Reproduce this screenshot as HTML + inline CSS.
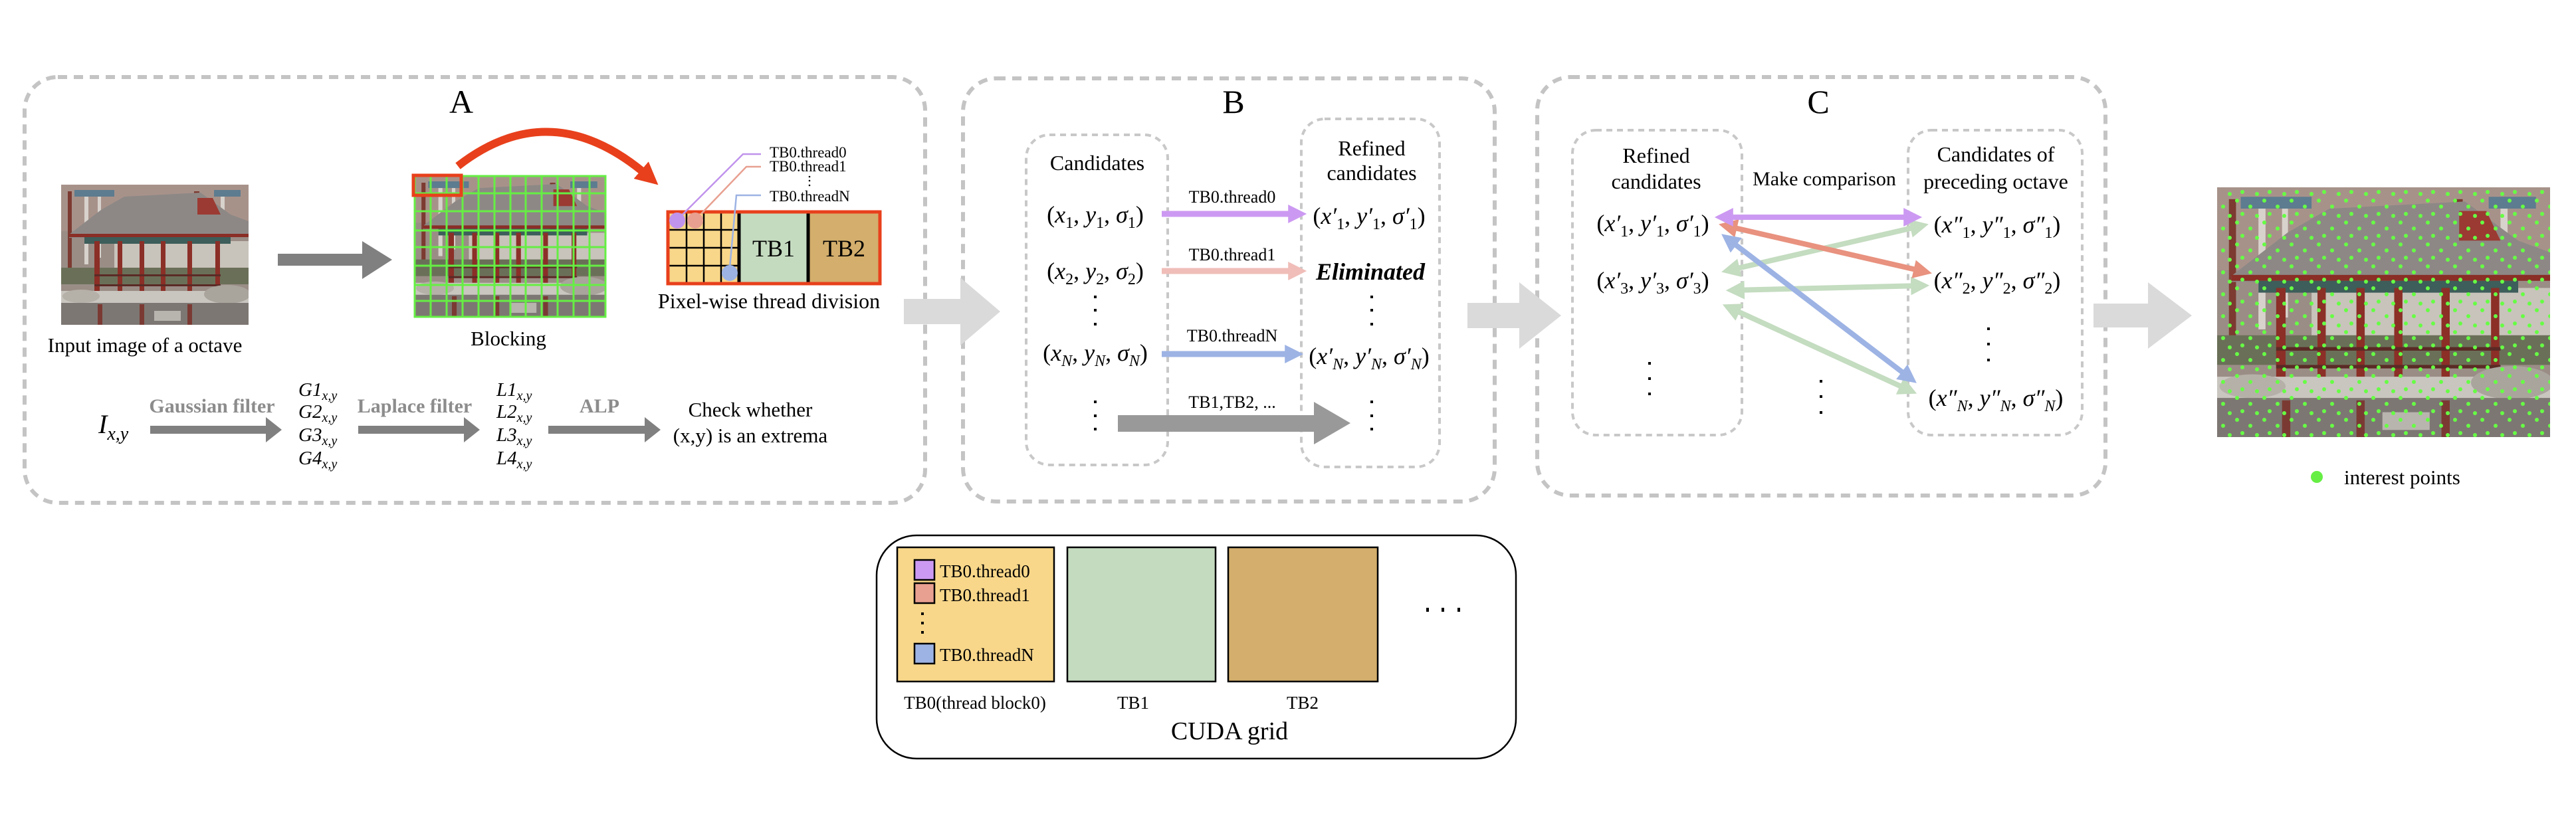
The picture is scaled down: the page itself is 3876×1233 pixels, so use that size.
<!DOCTYPE html>
<html><head><meta charset="utf-8"><style>
html,body{margin:0;padding:0;background:#fff;}
svg{display:block;}
text{font-family:"Liberation Serif",serif;fill:#000;}
text.g{fill:#8c8c8c;}
.m{font-size:36px;}
.i{font-style:italic;}
.s{font-size:24px;}
</style></head><body>
<svg width="3876" height="1233" viewBox="0 0 3876 1233" xmlns="http://www.w3.org/2000/svg">
<defs>
<symbol id="pav" viewBox="0 0 282 211" preserveAspectRatio="none">
<rect x="0" y="0" width="282" height="211" fill="#9a8d86"/>
<rect x="0" y="0" width="282" height="70" fill="#a7928a"/>
<rect x="10" y="10" width="6" height="120" fill="#7c3a30"/>
<rect x="35" y="10" width="6" height="110" fill="#d8d2cc"/>
<rect x="55" y="10" width="5" height="100" fill="#d8d2cc"/>
<rect x="200" y="10" width="8" height="110" fill="#7c3a30"/>
<rect x="240" y="10" width="6" height="110" fill="#d8d2cc"/>
<rect x="20" y="8" width="60" height="10" fill="#5d7c8f"/>
<rect x="230" y="8" width="40" height="10" fill="#5d7c8f"/>
<rect x="80" y="85" width="202" height="60" fill="#c8c3bb"/>
<rect x="0" y="125" width="282" height="25" fill="#6a7058"/>
<polygon points="12,75 60,38 95,18 210,12 255,45 282,55 282,78 12,80" fill="#8d8886"/>
<polygon points="205,20 228,20 240,45 205,45" fill="#9b3a32"/>
<rect x="12" y="74" width="270" height="5" fill="#8a2e26"/>
<rect x="35" y="79" width="220" height="10" fill="#3d5e5a"/>
<rect x="50" y="85" width="8" height="80" fill="#8b2f27"/>
<rect x="85" y="85" width="7" height="80" fill="#8b2f27"/>
<rect x="118" y="85" width="7" height="80" fill="#8b2f27"/>
<rect x="150" y="85" width="7" height="80" fill="#8b2f27"/>
<rect x="190" y="85" width="7" height="80" fill="#8b2f27"/>
<rect x="232" y="85" width="7" height="80" fill="#8b2f27"/>
<rect x="50" y="135" width="190" height="3" fill="#5a2a25"/>
<rect x="50" y="150" width="190" height="3" fill="#5a2a25"/>
<rect x="0" y="160" width="282" height="18" fill="#c9c5bf"/>
<ellipse cx="30" cy="168" rx="28" ry="10" fill="#b5b0a8"/>
<ellipse cx="250" cy="165" rx="35" ry="14" fill="#a9a49c"/>
<rect x="0" y="178" width="282" height="33" fill="#7d7773"/>
<rect x="55" y="180" width="7" height="31" fill="#7a3a33"/>
<rect x="118" y="180" width="7" height="31" fill="#7a3a33"/>
<rect x="190" y="180" width="7" height="31" fill="#7a3a33"/>
<rect x="140" y="190" width="40" height="15" fill="#b8b4ae"/>
</symbol>
<pattern id="dots1" width="41" height="33" patternUnits="userSpaceOnUse">
<circle cx="4" cy="5" r="3" fill="#66ff44"/><circle cx="24" cy="14" r="3" fill="#66ff44"/><circle cx="12" cy="25" r="3" fill="#66ff44"/><circle cx="34" cy="28" r="3" fill="#66ff44"/>
</pattern>
<marker id="mP" viewBox="0 0 10 10" refX="6" refY="5" markerWidth="30" markerHeight="28" markerUnits="userSpaceOnUse" orient="auto-start-reverse"><path d="M0,0L10,5L0,10z" fill="#cc99f2"/></marker>
<marker id="mK" viewBox="0 0 10 10" refX="6" refY="5" markerWidth="30" markerHeight="28" markerUnits="userSpaceOnUse" orient="auto-start-reverse"><path d="M0,0L10,5L0,10z" fill="#f0bdb8"/></marker>
<marker id="mB" viewBox="0 0 10 10" refX="6" refY="5" markerWidth="30" markerHeight="28" markerUnits="userSpaceOnUse" orient="auto-start-reverse"><path d="M0,0L10,5L0,10z" fill="#9db3e4"/></marker>
<marker id="mS" viewBox="0 0 10 10" refX="6" refY="5" markerWidth="30" markerHeight="28" markerUnits="userSpaceOnUse" orient="auto-start-reverse"><path d="M0,0L10,5L0,10z" fill="#e8927f"/></marker>
<marker id="mG" viewBox="0 0 10 10" refX="6" refY="5" markerWidth="30" markerHeight="28" markerUnits="userSpaceOnUse" orient="auto-start-reverse"><path d="M0,0L10,5L0,10z" fill="#c4dcc0"/></marker>
<marker id="mR" viewBox="0 0 10 10" refX="4" refY="5" markerWidth="34" markerHeight="34" markerUnits="userSpaceOnUse" orient="auto"><path d="M0,0L10,5L0,10z" fill="#e8401c"/></marker>
</defs>

<g fill="none" stroke="#c4c4c4" stroke-width="6" stroke-dasharray="14 10">
<rect x="37" y="116" width="1355" height="641" rx="50"/>
<rect x="1449" y="118" width="800" height="637" rx="50"/>
<rect x="2313" y="116" width="855" height="630" rx="50"/>
</g>
<g fill="none" stroke="#c8c8c8" stroke-width="4" stroke-dasharray="9 7">
<rect x="1544" y="203" width="213" height="497" rx="35"/>
<rect x="1958" y="179" width="208" height="524" rx="35"/>
<rect x="2366" y="196" width="255" height="459" rx="35"/>
<rect x="2871" y="196" width="262" height="459" rx="35"/>
</g>

<g fill="#dadadb">
<polygon points="1360,450 1445,450 1445,418 1505,469 1445,520 1445,488 1360,488"/>
<polygon points="2208,456 2286,456 2286,425 2349,475 2286,525 2286,494 2208,494"/>
<polygon points="3150,457 3232,457 3232,425 3298,475 3232,525 3232,493 3150,493"/>
</g>

<text x="694" y="170" font-size="50" text-anchor="middle">A</text>
<use href="#pav" x="92" y="278" width="282" height="211"/>
<text x="218" y="530" font-size="31" text-anchor="middle">Input image of a octave</text>
<polygon points="418,382 545,382 545,363 590,391 545,420 545,400 418,400" fill="#808080"/>
<use href="#pav" x="624" y="265" width="287" height="212"/>
<g stroke="#66ee44" stroke-width="3">
<rect x="624" y="265" width="287" height="212" fill="none"/>
<line x1="648" y1="265" x2="648" y2="477"/><line x1="672" y1="265" x2="672" y2="477"/><line x1="696" y1="265" x2="696" y2="477"/><line x1="720" y1="265" x2="720" y2="477"/><line x1="744" y1="265" x2="744" y2="477"/><line x1="768" y1="265" x2="768" y2="477"/><line x1="791" y1="265" x2="791" y2="477"/><line x1="815" y1="265" x2="815" y2="477"/><line x1="839" y1="265" x2="839" y2="477"/><line x1="863" y1="265" x2="863" y2="477"/><line x1="887" y1="265" x2="887" y2="477"/>
<line x1="624" y1="291" x2="911" y2="291"/><line x1="624" y1="318" x2="911" y2="318"/><line x1="624" y1="347" x2="911" y2="347"/><line x1="624" y1="372" x2="911" y2="372"/><line x1="624" y1="400" x2="911" y2="400"/><line x1="624" y1="429" x2="911" y2="429"/><line x1="624" y1="453" x2="911" y2="453"/>
</g>
<rect x="622" y="264" width="72" height="30" fill="none" stroke="#e8401c" stroke-width="5"/>
<text x="765" y="520" font-size="31" text-anchor="middle">Blocking</text>
<path d="M689,250 Q830,140 975,265" fill="none" stroke="#e8401c" stroke-width="12" marker-end="url(#mR)"/>

<rect x="1005" y="319" width="106" height="108" fill="#f8d78a"/>
<rect x="1112" y="319" width="104" height="108" fill="#c5dbc0"/>
<rect x="1216" y="319" width="108" height="108" fill="#d3ae6c"/>
<g stroke="#000" stroke-width="2.5">
<line x1="1033" y1="319" x2="1033" y2="427"/><line x1="1059" y1="319" x2="1059" y2="427"/><line x1="1085" y1="319" x2="1085" y2="427"/>
<line x1="1005" y1="346" x2="1111" y2="346"/><line x1="1005" y1="373" x2="1111" y2="373"/><line x1="1005" y1="400" x2="1111" y2="400"/>
</g>
<line x1="1112" y1="319" x2="1112" y2="427" stroke="#000" stroke-width="5"/>
<line x1="1216" y1="319" x2="1216" y2="427" stroke="#000" stroke-width="5"/>
<rect x="1005" y="319" width="319" height="108" fill="none" stroke="#e8401c" stroke-width="5"/>
<text x="1164" y="386" font-size="36" text-anchor="middle">TB1</text>
<text x="1270" y="386" font-size="36" text-anchor="middle">TB2</text>
<polyline points="1027,323 1118,232 1145,232" fill="none" stroke="#c094ec" stroke-width="2.5"/>
<polyline points="1055,322 1123,251 1145,251" fill="none" stroke="#e8a090" stroke-width="2.5"/>
<polyline points="1098,403 1108,294 1145,294" fill="none" stroke="#9db3e4" stroke-width="2.5"/>
<circle cx="1019" cy="332" r="12" fill="#c094ec"/>
<circle cx="1046" cy="332" r="12" fill="#e8a090"/>
<circle cx="1098" cy="411" r="12" fill="#9db3e4"/>
<g font-size="23">
<text x="1158" y="237">TB0.thread0</text>
<text x="1158" y="258">TB0.thread1</text>
<text x="1158" y="303">TB0.threadN</text>
</g>
<g fill="#000"><circle cx="1218" cy="266" r="1.3"/><circle cx="1218" cy="272" r="1.3"/><circle cx="1218" cy="279" r="1.3"/></g>
<text x="1157" y="464" font-size="32" text-anchor="middle">Pixel-wise thread division</text>

<text x="148" y="652" font-size="40" class="i">I<tspan font-size="28" dy="10">x,y</tspan></text>
<g font-size="30" font-weight="bold" text-anchor="middle">
<text x="319" y="621" class="g">Gaussian filter</text>
<text x="624" y="621" class="g">Laplace filter</text>
<text x="902" y="621" class="g">ALP</text>
</g>
<g fill="#808080">
<polygon points="226,641 400,641 400,628 424,647 400,666 400,653 226,653"/>
<polygon points="539,641 698,641 698,628 722,647 698,666 698,653 539,653"/>
<polygon points="825,641 970,641 970,628 994,647 970,666 970,653 825,653"/>
</g>
<g font-size="29">
<text x="449" y="596" class="i">G1<tspan font-size="20" dy="6">x,y</tspan></text>
<text x="449" y="629" class="i">G2<tspan font-size="20" dy="6">x,y</tspan></text>
<text x="449" y="664" class="i">G3<tspan font-size="20" dy="6">x,y</tspan></text>
<text x="449" y="699" class="i">G4<tspan font-size="20" dy="6">x,y</tspan></text>
<text x="747" y="596" class="i">L1<tspan font-size="20" dy="6">x,y</tspan></text>
<text x="747" y="629" class="i">L2<tspan font-size="20" dy="6">x,y</tspan></text>
<text x="747" y="664" class="i">L3<tspan font-size="20" dy="6">x,y</tspan></text>
<text x="747" y="699" class="i">L4<tspan font-size="20" dy="6">x,y</tspan></text>
</g>
<text x="1129" y="627" font-size="31" text-anchor="middle">Check whether</text>
<text x="1129" y="666" font-size="31" text-anchor="middle">(x,y) is an extrema</text>

<text x="1856" y="170" font-size="50" text-anchor="middle">B</text>
<text x="1651" y="256" font-size="32" text-anchor="middle">Candidates</text>
<text x="2064" y="234" font-size="32" text-anchor="middle">Refined</text>
<text x="2064" y="271" font-size="32" text-anchor="middle">candidates</text>

<text x="1648" y="335" class="m" text-anchor="middle">(<tspan class="i">x</tspan><tspan class="s" dy="8">1</tspan><tspan dy="-8">, </tspan><tspan class="i">y</tspan><tspan class="s" dy="8">1</tspan><tspan dy="-8">, </tspan><tspan class="i">σ</tspan><tspan class="s" dy="8">1</tspan><tspan dy="-8">)</tspan></text>
<text x="1648" y="420" class="m" text-anchor="middle">(<tspan class="i">x</tspan><tspan class="s" dy="8">2</tspan><tspan dy="-8">, </tspan><tspan class="i">y</tspan><tspan class="s" dy="8">2</tspan><tspan dy="-8">, </tspan><tspan class="i">σ</tspan><tspan class="s" dy="8">2</tspan><tspan dy="-8">)</tspan></text>
<text x="1648" y="543" class="m" text-anchor="middle">(<tspan class="i">x</tspan><tspan class="s i" dy="8">N</tspan><tspan dy="-8">, </tspan><tspan class="i">y</tspan><tspan class="s i" dy="8">N</tspan><tspan dy="-8">, </tspan><tspan class="i">σ</tspan><tspan class="s i" dy="8">N</tspan><tspan dy="-8">)</tspan></text>

<text x="2060" y="337" class="m" text-anchor="middle">(<tspan class="i">x′</tspan><tspan class="s" dy="8">1</tspan><tspan dy="-8">, </tspan><tspan class="i">y′</tspan><tspan class="s" dy="8">1</tspan><tspan dy="-8">, </tspan><tspan class="i">σ′</tspan><tspan class="s" dy="8">1</tspan><tspan dy="-8">)</tspan></text>
<text x="2062" y="421" font-size="36" font-weight="bold" font-style="italic" text-anchor="middle">Eliminated</text>
<text x="2060" y="548" class="m" text-anchor="middle">(<tspan class="i">x′</tspan><tspan class="s i" dy="8">N</tspan><tspan dy="-8">, </tspan><tspan class="i">y′</tspan><tspan class="s i" dy="8">N</tspan><tspan dy="-8">, </tspan><tspan class="i">σ′</tspan><tspan class="s i" dy="8">N</tspan><tspan dy="-8">)</tspan></text>

<g fill="#000">
<rect x="1646" y="445" width="4" height="4"/><rect x="1646" y="465" width="4" height="4"/><rect x="1646" y="486" width="4" height="4"/>
<rect x="1646" y="603" width="4" height="4"/><rect x="1646" y="624" width="4" height="4"/><rect x="1646" y="644" width="4" height="4"/>
<rect x="2062" y="445" width="4" height="4"/><rect x="2062" y="465" width="4" height="4"/><rect x="2062" y="486" width="4" height="4"/>
<rect x="2062" y="603" width="4" height="4"/><rect x="2062" y="624" width="4" height="4"/><rect x="2062" y="644" width="4" height="4"/>
</g>
<g stroke-width="9">
<line x1="1748" y1="322" x2="1955" y2="322" stroke="#cc99f2" marker-end="url(#mP)"/>
<line x1="1748" y1="408" x2="1955" y2="408" stroke="#f0bdb8" marker-end="url(#mK)"/>
<line x1="1748" y1="533" x2="1950" y2="533" stroke="#9db3e4" marker-end="url(#mB)"/>
</g>
<g font-size="26" text-anchor="middle">
<text x="1854" y="305">TB0.thread0</text>
<text x="1854" y="392">TB0.thread1</text>
<text x="1854" y="514">TB0.threadN</text>
<text x="1854" y="614">TB1,TB2, ...</text>
</g>
<polygon points="1682,625 1977,625 1977,605 2032,637 1977,669 1977,650 1682,650" fill="#999999"/>

<text x="2736" y="170" font-size="50" text-anchor="middle">C</text>
<text x="2492" y="245" font-size="32" text-anchor="middle">Refined</text>
<text x="2492" y="284" font-size="32" text-anchor="middle">candidates</text>
<text x="2745" y="279" font-size="30" text-anchor="middle">Make comparison</text>
<text x="3003" y="243" font-size="32" text-anchor="middle">Candidates of</text>
<text x="3003" y="284" font-size="32" text-anchor="middle">preceding octave</text>

<text x="2487" y="348" class="m" text-anchor="middle">(<tspan class="i">x′</tspan><tspan class="s" dy="8">1</tspan><tspan dy="-8">, </tspan><tspan class="i">y′</tspan><tspan class="s" dy="8">1</tspan><tspan dy="-8">, </tspan><tspan class="i">σ′</tspan><tspan class="s" dy="8">1</tspan><tspan dy="-8">)</tspan></text>
<text x="2487" y="434" class="m" text-anchor="middle">(<tspan class="i">x′</tspan><tspan class="s" dy="8">3</tspan><tspan dy="-8">, </tspan><tspan class="i">y′</tspan><tspan class="s" dy="8">3</tspan><tspan dy="-8">, </tspan><tspan class="i">σ′</tspan><tspan class="s" dy="8">3</tspan><tspan dy="-8">)</tspan></text>
<text x="3005" y="350" class="m" text-anchor="middle">(<tspan class="i">x″</tspan><tspan class="s" dy="8">1</tspan><tspan dy="-8">, </tspan><tspan class="i">y″</tspan><tspan class="s" dy="8">1</tspan><tspan dy="-8">, </tspan><tspan class="i">σ″</tspan><tspan class="s" dy="8">1</tspan><tspan dy="-8">)</tspan></text>
<text x="3005" y="434" class="m" text-anchor="middle">(<tspan class="i">x″</tspan><tspan class="s" dy="8">2</tspan><tspan dy="-8">, </tspan><tspan class="i">y″</tspan><tspan class="s" dy="8">2</tspan><tspan dy="-8">, </tspan><tspan class="i">σ″</tspan><tspan class="s" dy="8">2</tspan><tspan dy="-8">)</tspan></text>
<text x="3003" y="611" class="m" text-anchor="middle">(<tspan class="i">x″</tspan><tspan class="s i" dy="8">N</tspan><tspan dy="-8">, </tspan><tspan class="i">y″</tspan><tspan class="s i" dy="8">N</tspan><tspan dy="-8">, </tspan><tspan class="i">σ″</tspan><tspan class="s i" dy="8">N</tspan><tspan dy="-8">)</tspan></text>
<g fill="#000">
<rect x="2480" y="545" width="4" height="4"/><rect x="2480" y="568" width="4" height="4"/><rect x="2480" y="591" width="4" height="4"/>
<rect x="2738" y="572" width="4" height="4"/><rect x="2738" y="595" width="4" height="4"/><rect x="2738" y="619" width="4" height="4"/>
<rect x="2990" y="493" width="4" height="4"/><rect x="2990" y="516" width="4" height="4"/><rect x="2990" y="540" width="4" height="4"/>
</g>
<g stroke-width="8">
<line x1="2601" y1="407" x2="2891" y2="340" stroke="#c4dcc0" marker-start="url(#mG)" marker-end="url(#mG)"/>
<line x1="2608" y1="437" x2="2892" y2="430" stroke="#c4dcc0" marker-start="url(#mG)" marker-end="url(#mG)"/>
<line x1="2602" y1="463" x2="2874" y2="588" stroke="#c4dcc0" marker-start="url(#mG)" marker-end="url(#mG)"/>
<line x1="2597" y1="340" x2="2896" y2="409" stroke="#e8927f" marker-start="url(#mS)" marker-end="url(#mS)"/>
<line x1="2599" y1="359" x2="2875" y2="570" stroke="#9db3e4" marker-start="url(#mB)" marker-end="url(#mB)"/>
<line x1="2591" y1="327" x2="2881" y2="327" stroke="#cc99f2" marker-start="url(#mP)" marker-end="url(#mP)"/>
</g>

<use href="#pav" x="3336" y="282" width="501" height="376"/>
<rect x="3336" y="282" width="501" height="376" fill="url(#dots1)"/>
<circle cx="3486" cy="718" r="9" fill="#66ee44"/>
<text x="3527" y="729" font-size="31">interest points</text>

<rect x="1319" y="806" width="962" height="336" rx="60" fill="none" stroke="#000" stroke-width="2.5"/>
<rect x="1350" y="824" width="236" height="202" fill="#f8d78a" stroke="#000" stroke-width="2.5"/>
<rect x="1606" y="824" width="223" height="202" fill="#c5dbc0" stroke="#000" stroke-width="2.5"/>
<rect x="1848" y="824" width="225" height="202" fill="#d3ae6c" stroke="#000" stroke-width="2.5"/>
<rect x="1376" y="843" width="30" height="30" fill="#cc99f2" stroke="#000" stroke-width="2.5"/>
<rect x="1376" y="878" width="30" height="30" fill="#e8a090" stroke="#000" stroke-width="2.5"/>
<rect x="1376" y="969" width="30" height="30" fill="#9db3e4" stroke="#000" stroke-width="2.5"/>
<g font-size="27">
<text x="1414" y="869">TB0.thread0</text>
<text x="1414" y="905">TB0.thread1</text>
<text x="1414" y="995">TB0.threadN</text>
</g>
<g fill="#000"><rect x="1386" y="922" width="4" height="4"/><rect x="1386" y="936" width="4" height="4"/><rect x="1386" y="950" width="4" height="4"/>
<rect x="2146" y="915" width="4" height="6"/><rect x="2169" y="915" width="4" height="6"/><rect x="2193" y="915" width="4" height="6"/></g>
<g font-size="27" text-anchor="middle">
<text x="1467" y="1067">TB0(thread block0)</text>
<text x="1705" y="1067">TB1</text>
<text x="1960" y="1067">TB2</text>
</g>
<text x="1850" y="1113" font-size="38" text-anchor="middle">CUDA grid</text>
</svg>
</body></html>
